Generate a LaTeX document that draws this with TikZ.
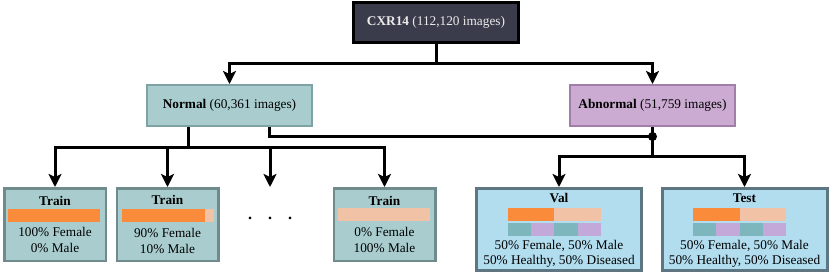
\documentclass[tikz,border=0pt]{standalone}
\usepackage{fontspec}
\setmainfont{Liberation Serif}
\usetikzlibrary{arrows.meta}
\definecolor{cxrfill}{HTML}{3B3C4B}
\definecolor{normfill}{HTML}{A9CDCF}
\definecolor{normedge}{HTML}{7EA3A4}
\definecolor{abfill}{HTML}{CBABD1}
\definecolor{abedge}{HTML}{A27FAB}
\definecolor{trainedge}{HTML}{6F8B8C}
\definecolor{valfill}{HTML}{B1DDEF}
\definecolor{valedge}{HTML}{5E7582}
\definecolor{barorange}{HTML}{F98B3B}
\definecolor{barpeach}{HTML}{F1C2A6}
\definecolor{barteal}{HTML}{7EB6BD}
\definecolor{barlav}{HTML}{C3A9D9}
\begin{document}
\begin{tikzpicture}[x=1pt,y=-1pt,
  font=\fontsize{13.3}{15.5}\selectfont,
  box/.style={draw, rectangle, inner sep=0pt},
  topbox/.style={box, fill=cxrfill, draw=black, line width=3pt, minimum width=165pt, minimum height=40pt, text=white!92!black},
  midbox/.style={box, line width=2pt, minimum width=165pt, minimum height=41pt},
  trainbox/.style={box, fill=normfill, draw=trainedge, line width=2.5pt, minimum width=101.5pt, minimum height=72.5pt},
  evalbox/.style={box, fill=valfill, draw=valedge, line width=3pt, minimum width=165pt, minimum height=82pt},
  lbl/.style={inner sep=0pt, align=center},
  conn/.style={line width=3pt},
  arr/.style={conn, -{Stealth[length=13pt,width=13pt,inset=3pt]}},
]
\useasboundingbox (0,0) rectangle (831,277);

% main boxes
\node[topbox] (cxr) at (436,22.5) {\textbf{CXR14} (112,120 images)};
\node[midbox, fill=normfill, draw=normedge] (normal) at (229.5,105.5) {\textbf{Normal} (60,361 images)};
\node[midbox, fill=abfill, draw=abedge] (abnormal) at (652.5,105.5) {\textbf{Abnormal} (51,759 images)};

% train boxes
\node[trainbox] (t1) at (55,224.5) {};
\node[trainbox] (t2) at (167.5,224.5) {};
\node[trainbox] (t3) at (384.5,224.5) {};
\node[font=\fontsize{16}{16}\selectfont\bfseries, inner sep=0pt] (dots) at (270,218) {.\hspace{16pt}.\hspace{16pt}.};

% eval boxes
\node[evalbox] (val) at (559,229.5) {};
\node[evalbox] (test) at (744.5,229.5) {};

% train box contents
\node[lbl, font=\fontsize{13.3}{15.5}\selectfont\bfseries] (t1t) at (55,201) {Train};
\fill[barorange] (8,209) rectangle (100,222);
\node[lbl, font=\fontsize{13.3}{16}\selectfont] (t1l) at (55,240) {100\% Female\\0\% Male};

\node[lbl, font=\fontsize{13.3}{15.5}\selectfont\bfseries] (t2t) at (167.5,200) {Train};
\fill[barorange] (122,209) rectangle (205,222);
\fill[barpeach] (205,209) rectangle (214,222);
\node[lbl, font=\fontsize{13.3}{16}\selectfont] (t2l) at (167.5,241) {90\% Female\\10\% Male};

\node[lbl, font=\fontsize{13.3}{15.5}\selectfont\bfseries] (t3t) at (384.5,201) {Train};
\fill[barpeach] (338,208) rectangle (430,221);
\node[lbl, font=\fontsize{13.3}{16}\selectfont] (t3l) at (384.5,240) {0\% Female\\100\% Male};

% val contents
\node[lbl, font=\fontsize{13.3}{15.5}\selectfont\bfseries] (vt) at (559,198) {Val};
\fill[barorange] (508,208) rectangle (554,221);
\fill[barpeach] (554,208) rectangle (601,221);
\fill[barteal] (508,223) rectangle (531,236);
\fill[barlav] (531,223) rectangle (554,236);
\fill[barteal] (554,223) rectangle (578,236);
\fill[barlav] (578,223) rectangle (601,236);
\node[lbl, font=\fontsize{13.3}{15}\selectfont] (vl) at (559,253.5) {50\% Female, 50\% Male\\50\% Healthy, 50\% Diseased};

% test contents
\node[lbl, font=\fontsize{13.3}{15.5}\selectfont\bfseries] (tt) at (744.5,198) {Test};
\fill[barorange] (693,208) rectangle (740,221);
\fill[barpeach] (740,208) rectangle (786,221);
\fill[barteal] (693,223) rectangle (716,236);
\fill[barlav] (716,223) rectangle (740,236);
\fill[barteal] (740,223) rectangle (763,236);
\fill[barlav] (763,223) rectangle (786,236);
\node[lbl, font=\fontsize{13.3}{15}\selectfont] (tl) at (744.5,253.5) {50\% Female, 50\% Male\\50\% Healthy, 50\% Diseased};

% connectors
\coordinate (j0) at (cxr.south |- 0,63);
\draw[conn] (cxr.south) -- (j0);
\draw[arr] (j0) -| (normal.north);
\draw[arr] (j0) -| (abnormal.north);

\coordinate (nL) at ([xshift=-41.5pt]normal.south);
\coordinate (j1) at (nL |- 0,147);
\draw[conn] (nL) -- (j1);
\draw[arr] (j1) -| (t1.north);
\draw[arr] (j1) -| (t2.north);
\draw[arr] (j1) -| (dots.north |- t1.north);
\draw[arr] (j1) -| (t3.north);

\coordinate (dot) at (abnormal.south |- 0,136.5);
\coordinate (nR) at ([xshift=39.5pt]normal.south);
\draw[conn] (nR) |- (dot);
\coordinate (j2) at (abnormal.south |- 0,156);
\draw[conn] (abnormal.south) -- (j2);
\fill (dot) circle (4.5pt);
\draw[arr] (j2) -| (val.north);
\draw[arr] (j2) -| (test.north);
\end{tikzpicture}
\end{document}
